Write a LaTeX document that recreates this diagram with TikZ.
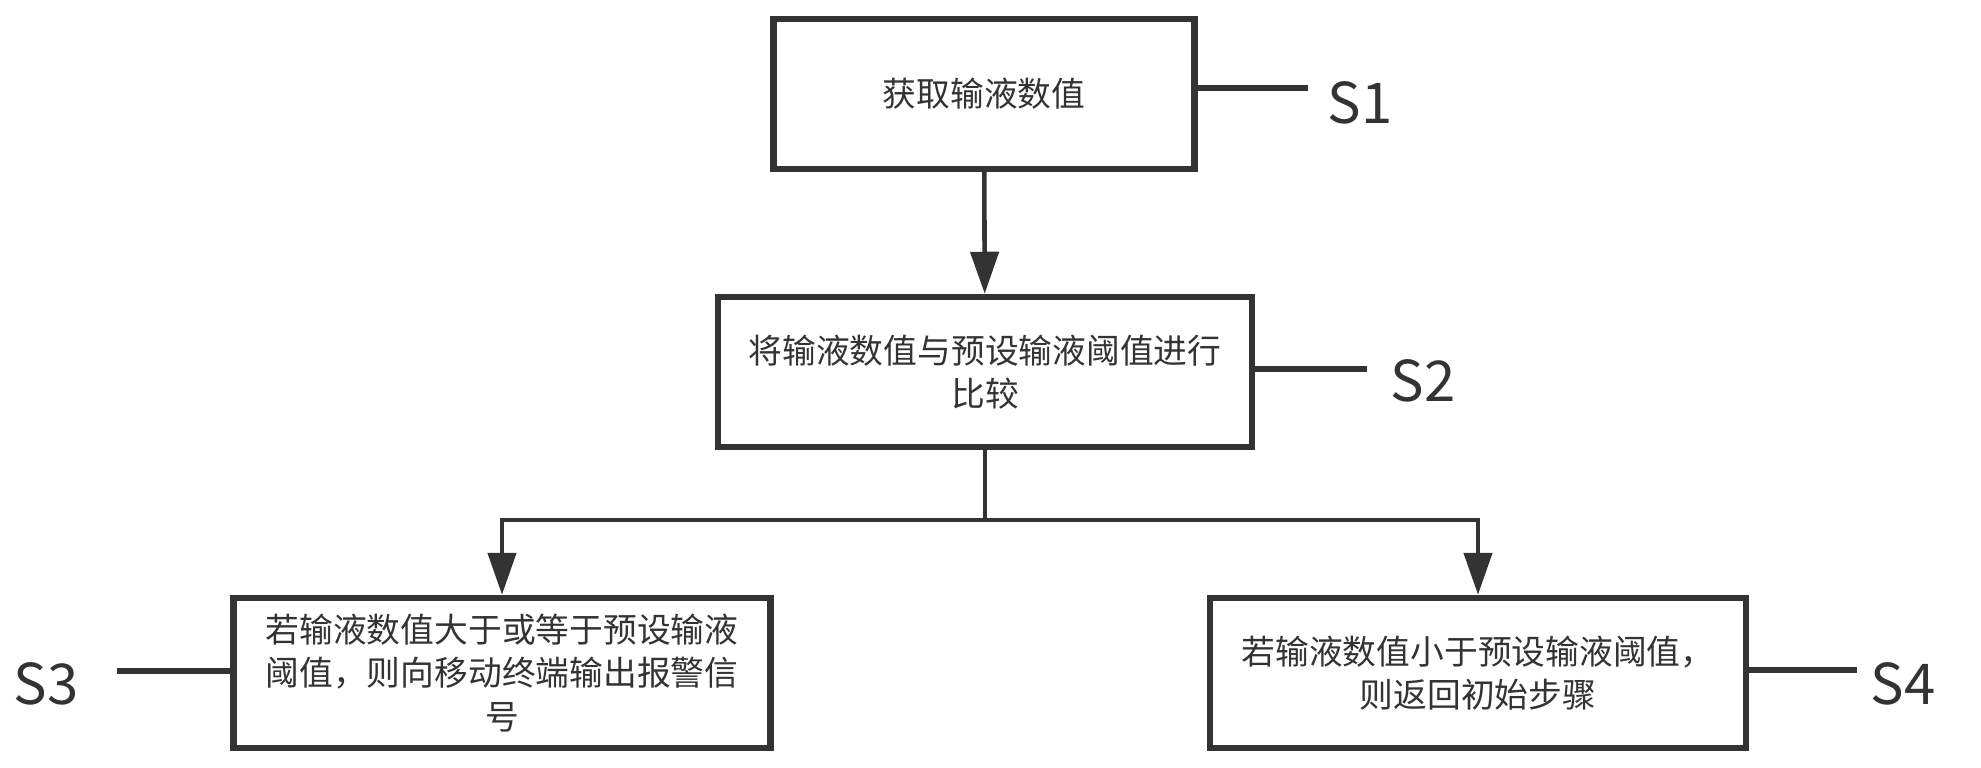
\documentclass[tikz,border=0pt]{standalone}
\usepackage{fontspec}
\newfontfamily\cjk{Noto Sans CJK SC}
\usetikzlibrary{arrows.meta}
\definecolor{boxline}{HTML}{333333}
\tikzset{stepbox/.style={draw=boxline, line width=1.8pt, fill=white,
    align=center, text=boxline, inner sep=0pt, minimum height=1.5cm,
    font=\cjk\fontsize{9.6}{12.4}\selectfont},
    steplabel/.style={font=\cjk\fontsize{16}{16}\selectfont, text=boxline,
    anchor=base west, inner sep=0pt},
    flow/.style={draw=boxline, line width=1.3pt,
    -{Triangle[width=0.28cm,length=0.42cm]}},
    tagline/.style={draw=boxline, line width=1.6pt},
    }

\begin{document}
\begin{tikzpicture}[x=0.01cm,y=-0.01cm]
	\useasboundingbox (0,0) rectangle (1981,768);
	% steps
	\node[stepbox, minimum width=4.21cm] (get) at (984,94) {获取输液数值};
	\node[stepbox, minimum width=5.34cm] (cmp) at (985,372) {将输液数值与预设输液阈值进行\\比较};
	\node[stepbox, minimum width=5.37cm] (alarm) at (502,673) {若输液数值大于或等于预设输液\\阈值，则向移动终端输出报警信\\号};
	\node[stepbox, minimum width=5.36cm] (back) at (1478,673) {若输液数值小于预设输液阈值，\\则返回初始步骤};
	% step labels
	\node[steplabel] (s1) at (1327,124) {S1};
	\node[steplabel] (s2) at (1390,402) {S2};
	\node[steplabel] (s3) at (13,705) {S3};
	\node[steplabel] (s4) at (1870,705) {S4};
	\coordinate (s1end) at (1308,88);
	\coordinate (s2end) at (1367,369);
	\coordinate (s3end) at (117,671);
	\coordinate (s4end) at (1857,670);
	\draw[tagline] (s1end -| get.east) -- (s1end);
	\draw[tagline] (s2end -| cmp.east) -- (s2end);
	\draw[tagline] (s3end -| alarm.west) -- (s3end);
	\draw[tagline] (s4end -| back.east) -- (s4end);
	% flow
	\draw[flow] (get) -- (cmp);
	\draw[draw=boxline, line width=1.3pt] (cmp.south) -- ++(0,70) coordinate (split);
	\draw[flow] (split) -| (alarm.north);
	\draw[flow] (split) -| (back.north);
\end{tikzpicture}
\end{document}
